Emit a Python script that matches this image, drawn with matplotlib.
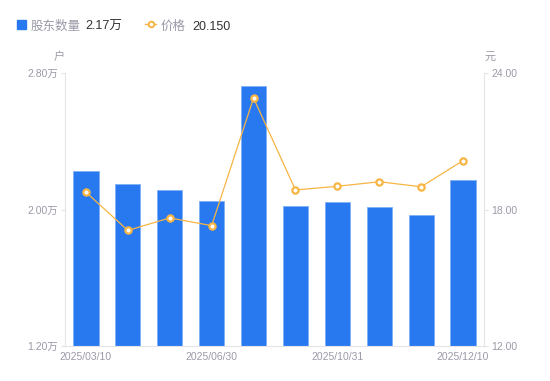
import matplotlib
matplotlib.use("Agg")
import matplotlib.pyplot as plt
from matplotlib.lines import Line2D
from matplotlib.patches import Rectangle

plt.rcParams["font.family"] = ["Liberation Sans", "Noto Sans CJK SC", "DejaVu Sans"]

# данные
dates = ["2025/03/10", "", "", "2025/06/30", "", "", "2025/10/31", "", "", "2025/12/10"]
holders = [2.225, 2.15, 2.115, 2.05, 2.725, 2.02, 2.045, 2.015, 1.97, 2.17]   # 万户
price = [18.76, 17.08, 17.63, 17.29, 22.90, 18.86, 19.02, 19.22, 19.00, 20.15]

BLUE = "#2878f0"
ORANGE = "#f8b543"
GRAY = "#9a9aa8"
AXIS = "#e3e3e8"

fig = plt.figure(figsize=(5.5, 3.81), dpi=100)
ax = fig.add_axes([65 / 550, 35 / 381, 419 / 550, 273 / 381])
ax2 = ax.twinx()

x = list(range(len(holders)))
ax.bar(x, [h - 1.2 for h in holders], bottom=1.2, width=0.6, color=BLUE,
       edgecolor="#7fb0f7", linewidth=0.6, zorder=2)
ax.set_xlim(-0.5, len(holders) - 0.5)
ax.set_ylim(1.2, 2.8)
ax.set_yticks([1.2, 2.0, 2.8])
ax.set_yticklabels([f"{v:.2f}万" for v in (1.2, 2.0, 2.8)])
ax.set_xticks(x)
ax.set_xticklabels(dates)

ax2.plot(x, price, color=ORANGE, linewidth=0.9, marker="o", markersize=4.5,
         markerfacecolor="white", markeredgecolor=ORANGE, markeredgewidth=1.6, zorder=3)
ax2.set_ylim(12, 24)
ax2.set_yticks([12, 18, 24])
ax2.set_yticklabels([f"{v:.2f}" for v in (12, 18, 24)])

for a in (ax, ax2):
    for s in a.spines.values():
        s.set_visible(False)
    a.tick_params(colors=GRAY, labelsize=7.5, length=3, width=0.8, color=AXIS, pad=2)
ax.spines["left"].set_visible(True)
ax.spines["left"].set_color(AXIS)
ax.spines["bottom"].set_visible(True)
ax.spines["bottom"].set_color(AXIS)
ax2.spines["right"].set_visible(True)
ax2.spines["right"].set_color(AXIS)
ax.tick_params(axis="x", length=0, pad=4)

fig.text(59 / 550, 1 - 57 / 381, "户", color=GRAY, fontsize=8, ha="center", va="center")
fig.text(490 / 550, 1 - 57 / 381, "元", color=GRAY, fontsize=8, ha="center", va="center")

# легенда вручную
ly = 1 - 24 / 381
ty = 1 - 29.5 / 381   # базовая линия текста
fig.patches.append(Rectangle((17 / 550, 1 - 28.5 / 381), 8.5 / 550, 8.5 / 381,
                             transform=fig.transFigure, color=BLUE))
fig.text(31 / 550, ty, "股东数量", color=GRAY, fontsize=9, va="baseline")
fig.text(85 / 550, ty, f"{holders[-1]:.2f}万", color="#333333", fontsize=9, va="baseline")
fig.lines.append(Line2D([145 / 550, 156 / 550], [ly, ly], transform=fig.transFigure,
                        color=ORANGE, linewidth=1))
fig.lines.append(Line2D([150.5 / 550], [ly], transform=fig.transFigure, marker="o",
                        markersize=4, markerfacecolor="white", markeredgecolor=ORANGE,
                        markeredgewidth=1.4, linestyle="none"))
fig.text(161 / 550, ty, "价格", color=GRAY, fontsize=9, va="baseline")
fig.text(192 / 550, ty, f"{price[-1]:.3f}", color="#333333", fontsize=9, va="baseline")

fig.savefig("out.png", dpi=100)
